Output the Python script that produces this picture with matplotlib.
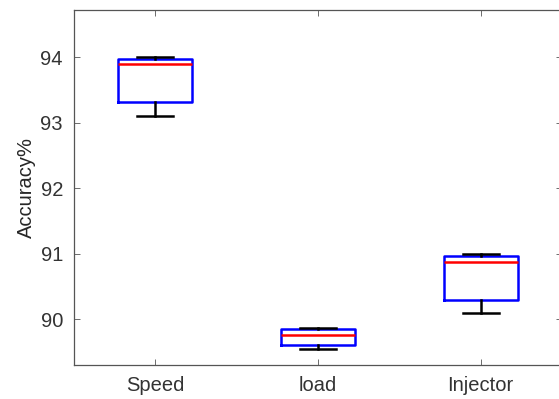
import matplotlib
matplotlib.use('Agg')
import matplotlib.pyplot as plt

# box statistics
labels = ['Speed', 'load', 'Injector']
q1 = [93.31, 89.60, 90.29]
med = [93.89, 89.76, 90.88]
q3 = [93.97, 89.85, 90.97]
whislo = [93.10, 89.54, 90.10]
whishi = [94.00, 89.87, 90.99]

plt.rcParams['font.family'] = ['Liberation Sans', 'DejaVu Sans']
grey = '#262626'

fig = plt.figure(figsize=(5.59, 3.99), dpi=100)
ax = fig.add_axes([0.1324, 0.0852, 0.873, 0.8897])

stats = []
for i in range(len(labels)):
    stats.append(dict(label=labels[i], q1=q1[i], med=med[i], q3=q3[i],
                      whislo=whislo[i], whishi=whishi[i], fliers=[]))

ax.bxp(stats, positions=[1, 2, 3], widths=0.455, showfliers=False,
       boxprops=dict(color='#0000ff', linewidth=1.8),
       medianprops=dict(color='#ff0000', linewidth=1.8),
       whiskerprops=dict(color='black', linewidth=1.8),
       capprops=dict(color='black', linewidth=1.8),
       capwidths=0.22)

ax.set_xlim(0.5, 3.5)
ax.set_ylim(89.30, 94.72)
ax.set_yticks([90, 91, 92, 93, 94])
ax.set_xticks([1, 2, 3])
ax.set_xticklabels(labels)
ax.set_ylabel('Accuracy%', fontsize=14.5, color=grey, labelpad=3)

ax.tick_params(direction='in', length=4, width=0.6, colors='#555555',
               labelsize=14.5, top=True, right=True, labelcolor='#333333')
ax.tick_params(axis='y', pad=8)
ax.tick_params(axis='x', pad=8)
for s in ax.spines.values():
    s.set_color('#555555')
    s.set_linewidth(0.9)

fig.savefig('out.png', dpi=100)
